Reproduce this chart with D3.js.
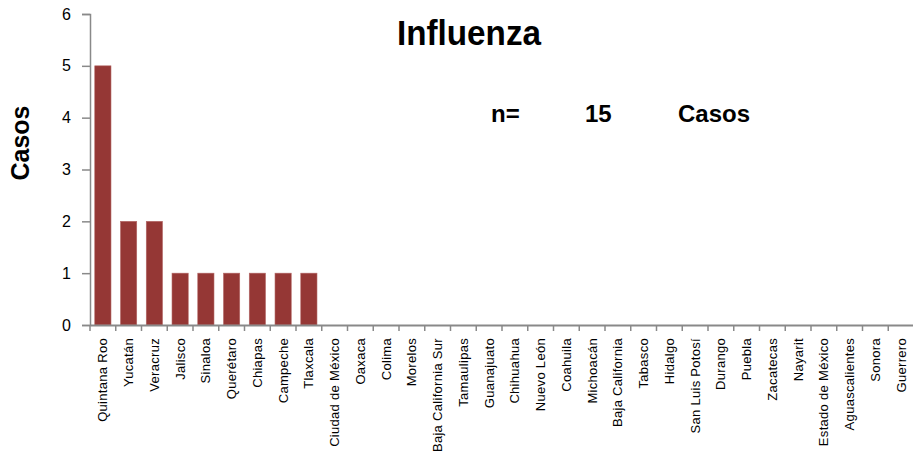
<!DOCTYPE html>
<html>
<head>
<meta charset="utf-8">
<script src="https://cdn.jsdelivr.net/npm/d3@7"></script>
<style>
  html, body { margin: 0; padding: 0; background: #fff; }
  svg { display: block; }
</style>
</head>
<body>
<svg id="chart" width="913" height="458"></svg>
<script>
const states = ["Quintana Roo","Yucatán","Veracruz","Jalisco","Sinaloa","Querétaro","Chiapas","Campeche","Tlaxcala","Ciudad de México","Oaxaca","Colima","Morelos","Baja California Sur","Tamaulipas","Guanajuato","Chihuahua","Nuevo León","Coahuila","Michoacán","Baja California","Tabasco","Hidalgo","San Luis Potosí","Durango","Puebla","Zacatecas","Nayarit","Estado de México","Aguascalientes","Sonora","Guerrero"];
const casos = [5,2,2,1,1,1,1,1,1,0,0,0,0,0,0,0,0,0,0,0,0,0,0,0,0,0,0,0,0,0,0,0];
const yTicks = [0,1,2,3,4,5,6];
const title = "Influenza";
const totalLabel = ["n=", "15", "Casos"];
const yLabel = "Casos";

const svg = d3.select("#chart");
const font = "'Liberation Sans', Arial, sans-serif";
const axisColor = "#898989";

const x = d3.scaleBand().domain(states).range([90, 914]).paddingInner(0.37).paddingOuter(0.185);
const y = d3.scaleLinear().domain([0, 6]).range([325, 14]);

// bars
svg.append("g").selectAll("rect").data(states.map((s, i) => ({s, v: casos[i]})).filter(d => d.v > 0))
  .join("rect")
  .attr("x", d => x(d.s))
  .attr("y", d => y(d.v))
  .attr("width", x.bandwidth())
  .attr("height", d => y(0) - y(d.v))
  .attr("fill", "#953735")
  .attr("stroke", "#b46866")
  .attr("stroke-width", 0.6);

// y axis
const yAxis = svg.append("g").attr("transform", "translate(90,0)")
  .call(d3.axisLeft(y).tickValues(yTicks).tickSize(8).tickPadding(11).tickFormat(d3.format("d")));
yAxis.select(".domain").attr("stroke", axisColor).attr("stroke-width", 1.5);
yAxis.selectAll(".tick line").attr("stroke", axisColor).attr("stroke-width", 1.5);
yAxis.selectAll(".tick text").attr("font-family", font).attr("font-size", 16).attr("fill", "#000");

// x axis
const bandStep = x.step();
const xAxis = svg.append("g").attr("transform", `translate(0,${y(0)})`)
  .call(d3.axisBottom(x).tickSize(0).tickFormat(""));
xAxis.select(".domain").attr("stroke", axisColor).attr("stroke-width", 2);
xAxis.selectAll(".tick").remove();
// boundary ticks between categories
xAxis.selectAll("line.edge").data(states.map((s, i) => i).concat([states.length]))
  .join("line").attr("class", "edge")
  .attr("x1", i => 90 + i * bandStep).attr("x2", i => 90 + i * bandStep)
  .attr("y1", 0).attr("y2", 6)
  .attr("stroke", axisColor).attr("stroke-width", 1.5);

// x labels
svg.append("g").selectAll("text").data(states).join("text")
  .attr("transform", d => `translate(${x(d) + x.bandwidth() / 2},338) rotate(-90)`)
  .attr("text-anchor", "end")
  .attr("dy", "0.35em")
  .attr("font-family", font)
  .attr("font-size", 13)
  .attr("letter-spacing", 0.3)
  .attr("fill", "#000")
  .text(d => d);

// title
svg.append("text").attr("x", 397).attr("y", 45)
  .attr("font-family", font).attr("font-weight", "bold").attr("font-size", 35)
  .attr("textLength", 144).attr("lengthAdjust", "spacingAndGlyphs")
  .attr("fill", "#000").text(title);

// n= 15 Casos
const nxs = [491, 585, 678];
svg.append("g").selectAll("text").data(totalLabel).join("text")
  .attr("x", (d, i) => nxs[i]).attr("y", 122)
  .attr("font-family", font).attr("font-weight", "bold").attr("font-size", 24)
  .attr("fill", "#000").text(d => d);

// y label
svg.append("text").attr("transform", "translate(29,143) rotate(-90)")
  .attr("text-anchor", "middle")
  .attr("font-family", font).attr("font-weight", "bold").attr("font-size", 25)
  .attr("fill", "#000").text(yLabel);
</script>
</body>
</html>
